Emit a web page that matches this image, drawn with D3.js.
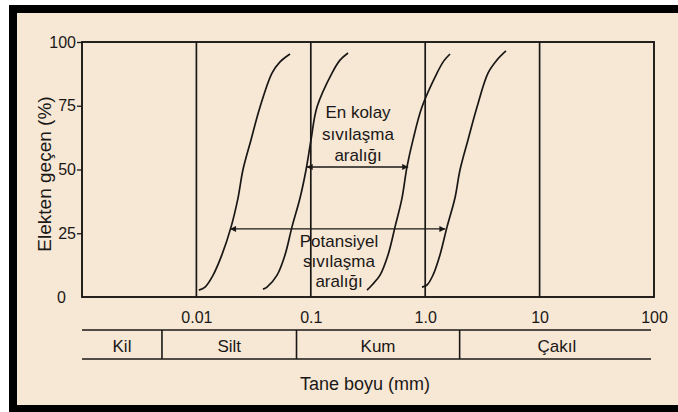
<!DOCTYPE html>
<html><head><meta charset="utf-8">
<script src="https://cdn.jsdelivr.net/npm/d3@7"></script>
<style>
html,body{margin:0;padding:0;background:#fff;}
svg{display:block;}
</style></head>
<body>
<svg id="chart" width="678" height="412"></svg>
<script>
// ---- data ----
const yTicks = [0, 25, 50, 75, 100];
const xTickValues = [0.01, 0.1, 1, 10, 100];
const xTickLabels = ["0.01", "0.1", "1.0", "10", "100"];
const gridLines = [0.01, 0.1, 1, 10];
const soilNames = ["Kil", "Silt", "Kum", "Çakıl"];
const soilBounds = [0.001, 0.005, 0.075, 2, 100];

const curve1Size = [0.0105, 0.0119, 0.0140, 0.0167, 0.0201, 0.0231, 0.0255, 0.0300, 0.0360, 0.0458, 0.0538, 0.0658];
const curve1Pct  = [2.7, 3.9, 8.6, 16.5, 27.5, 38.8, 49.8, 61.6, 74.5, 87.8, 92.2, 95.3];
const curve2Size = [0.0382, 0.0414, 0.0507, 0.0595, 0.0685, 0.0805, 0.0908, 0.1004, 0.1133, 0.1532, 0.180, 0.2115];
const curve2Pct  = [3.1, 3.9, 8.6, 16.5, 27.5, 38.8, 49.8, 61.6, 74.5, 87.8, 92.9, 95.7];
const curve3Size = [0.310, 0.343, 0.403, 0.473, 0.545, 0.627, 0.693, 0.782, 0.937, 1.268, 1.45, 1.647];
const curve3Pct  = [2.7, 4.7, 8.6, 16.5, 27.5, 38.8, 51.0, 61.6, 74.5, 87.8, 92.5, 95.3];
const curve4Size = [0.937, 1.037, 1.170, 1.346, 1.552, 1.820, 2.014, 2.366, 2.838, 3.540, 4.25, 5.08];
const curve4Pct  = [3.9, 4.7, 8.6, 16.5, 27.5, 38.8, 49.8, 61.6, 74.5, 87.8, 93.0, 96.5];

const rangeLabels = [["En kolay", "sıvılaşma", "aralığı"], ["Potansiyel", "sıvılaşma", "aralığı"]];
const rangeFrom = [0.092, 0.0197];
const rangeTo   = [0.71, 1.50];
const rangePct  = [51, 26.7];

const yTitle = "Elekten geçen (%)";
const xTitle = "Tane boyu (mm)";

// ---- drawing ----
const svg = d3.select("#chart");
const ink = "#1a1816";
const bg = "#f7e7d5";

svg.append("rect").attr("x", 9).attr("y", 5).attr("width", 669).attr("height", 407).attr("fill", "#000");
svg.append("rect").attr("x", 17).attr("y", 13).attr("width", 661).attr("height", 392).attr("fill", bg);

const x = d3.scaleLog().domain([0.001, 100]).range([82, 654]);
const y = d3.scaleLinear().domain([0, 100]).range([297, 42]);

const g = svg.append("g");

// grid verticals
g.selectAll("line.grid").data(gridLines).enter().append("line")
  .attr("x1", d => x(d)).attr("x2", d => x(d))
  .attr("y1", y(100)).attr("y2", y(0))
  .attr("stroke", ink).attr("stroke-width", 1.7);

// frame
g.append("rect").attr("x", x(0.001)).attr("y", y(100))
  .attr("width", x(100) - x(0.001)).attr("height", y(0) - y(100))
  .attr("fill", "none").attr("stroke", ink).attr("stroke-width", 1.9);

// y axis
const yAxis = d3.axisLeft(y).tickValues(yTicks).tickSize(5).tickPadding(1).tickFormat(d3.format("d"));
const ya = svg.append("g").attr("transform", `translate(${x(0.001)},0)`).call(yAxis);
ya.select(".domain").remove();
ya.selectAll(".tick line").attr("stroke", ink).attr("stroke-width", 1.3);
ya.selectAll(".tick line").filter(d => d === 0).remove();
ya.selectAll(".tick text").attr("font-family", "'Liberation Sans', Arial, sans-serif")
  .attr("font-size", 16).attr("fill", ink);
ya.selectAll(".tick text").filter(d => d === 0).attr("x", -16);

// x axis labels
const xAxis = d3.axisBottom(x).tickValues(xTickValues).tickSize(0).tickPadding(15)
  .tickFormat((d, i) => xTickLabels[i]);
const xa = svg.append("g").attr("transform", `translate(0,${y(0)})`).call(xAxis);
xa.select(".domain").remove();
xa.selectAll(".tick text").attr("font-family", "'Liberation Sans', Arial, sans-serif")
  .attr("font-size", 16).attr("fill", ink);

// curves
const line = d3.line().x(d => x(d[0])).y(d => y(d[1])).curve(d3.curveCatmullRom.alpha(0.5));
const curves = [[curve1Size, curve1Pct], [curve2Size, curve2Pct], [curve3Size, curve3Pct], [curve4Size, curve4Pct]];
curves.forEach(([s, p]) => {
  g.append("path").datum(s.map((v, i) => [v, p[i]]))
    .attr("d", line).attr("fill", "none").attr("stroke", ink).attr("stroke-width", 1.7);
});

// arrows
const defs = svg.append("defs");
defs.append("marker").attr("id", "ah").attr("viewBox", "0 0 10 10").attr("refX", 10).attr("refY", 5)
  .attr("markerWidth", 7).attr("markerHeight", 6).attr("markerUnits", "userSpaceOnUse")
  .attr("orient", "auto-start-reverse")
  .append("path").attr("d", "M0,0 L10,5 L0,10 z").attr("fill", ink);

rangeFrom.forEach((f, i) => {
  g.append("line").attr("x1", x(f)).attr("x2", x(rangeTo[i]))
    .attr("y1", y(rangePct[i])).attr("y2", y(rangePct[i]))
    .attr("stroke", ink).attr("stroke-width", 1.4)
    .attr("marker-start", "url(#ah)").attr("marker-end", "url(#ah)");
});

// range labels
const labelPos = [{cx: 358, ys: [118, 140, 161]}, {cx: 339, ys: [247, 267, 287]}];
rangeLabels.forEach((lines, i) => {
  lines.forEach((t, j) => {
    svg.append("text").attr("x", labelPos[i].cx).attr("y", labelPos[i].ys[j])
      .attr("text-anchor", "middle").attr("font-family", "'Liberation Sans', Arial, sans-serif")
      .attr("font-size", 17).attr("fill", ink).text(t);
  });
});

// soil classification band
const bandTop = 330, bandBot = 359;
svg.append("line").attr("x1", x(0.001)).attr("x2", x(100) - 3).attr("y1", bandTop).attr("y2", bandTop)
  .attr("stroke", ink).attr("stroke-width", 1.6);
svg.append("line").attr("x1", x(0.001)).attr("x2", x(100) - 3).attr("y1", bandBot).attr("y2", bandBot)
  .attr("stroke", ink).attr("stroke-width", 1.6);
svg.selectAll("line.div").data(soilBounds.slice(1, -1)).enter().append("line")
  .attr("x1", d => x(d)).attr("x2", d => x(d)).attr("y1", bandTop).attr("y2", bandBot)
  .attr("stroke", ink).attr("stroke-width", 1.6);
svg.selectAll("text.soil").data(soilNames).enter().append("text")
  .attr("x", (d, i) => (x(soilBounds[i]) + x(soilBounds[i + 1])) / 2)
  .attr("y", 352).attr("text-anchor", "middle")
  .attr("font-family", "'Liberation Sans', Arial, sans-serif").attr("font-size", 17).attr("fill", ink)
  .text(d => d);

// titles
svg.append("text").attr("x", 365).attr("y", 390).attr("text-anchor", "middle")
  .attr("font-family", "'Liberation Sans', Arial, sans-serif").attr("font-size", 18).attr("fill", ink)
  .text(xTitle);
svg.append("text").attr("transform", "translate(51,174) rotate(-90)").attr("text-anchor", "middle")
  .attr("font-family", "'Liberation Sans', Arial, sans-serif").attr("font-size", 19).attr("fill", ink)
  .text(yTitle);
</script>
</body></html>
